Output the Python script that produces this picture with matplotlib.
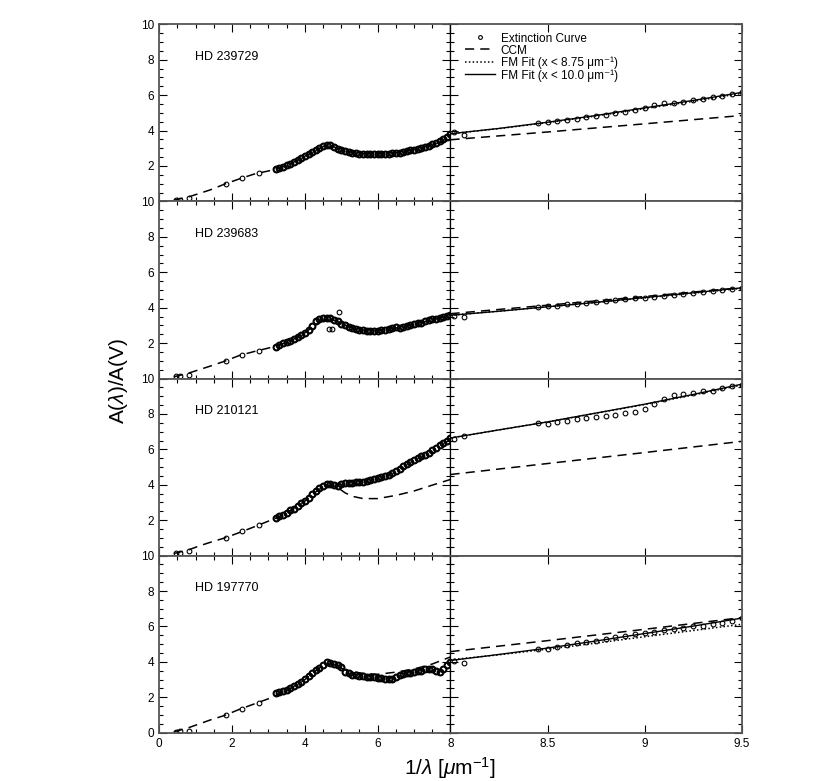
import numpy as np
import matplotlib.pyplot as plt
from matplotlib.ticker import MultipleLocator, FixedLocator

plt.rcParams['font.family'] = ['Liberation Sans', 'DejaVu Sans']
plt.rcParams['mathtext.fontset'] = 'custom'
plt.rcParams['mathtext.rm'] = 'Liberation Sans'
plt.rcParams['mathtext.it'] = 'Liberation Sans:italic'

stars = ['HD 239729', 'HD 239683', 'HD 210121', 'HD 197770']

# puntos IR/opticos (JHK, V, B, U)
ir_x = [0.45, 0.57, 0.82, 1.82, 2.27, 2.74]
ir_y = [[0.06, 0.10, 0.22, 1.00, 1.30, 1.60],
        [0.15, 0.17, 0.20, 1.00, 1.34, 1.55],
        [0.15, 0.17, 0.25, 1.00, 1.37, 1.71],
        [0.05, 0.08, 0.12, 1.00, 1.36, 1.66]]

# curva de extincion UV (IUE), x de 3.2 a 8.0 cada 0.1
uv_x = np.round(np.arange(3.2, 8.05, 0.1), 1)
uv_239729 = [1.82, 1.88, 1.96, 2.04, 2.12, 2.22, 2.33, 2.45, 2.55, 2.66,
             2.77, 2.88, 3.00, 3.12, 3.19, 3.18, 3.08, 2.97, 2.89, 2.82,
             2.78, 2.74, 2.72, 2.70, 2.69, 2.68, 2.68, 2.67, 2.68, 2.68,
             2.69, 2.70, 2.72, 2.74, 2.76, 2.80, 2.84, 2.88, 2.92, 2.97,
             3.03, 3.09, 3.15, 3.22, 3.30, 3.42, 3.52, 3.65, 3.82]
uv_239683 = [1.80, 1.90, 1.98, 2.05, 2.12, 2.22, 2.33, 2.45, 2.58, 2.72,
             2.95, 3.25, 3.35, 3.40, 3.42, 3.40, 3.32, 3.22, 3.10, 3.00,
             2.92, 2.85, 2.80, 2.76, 2.72, 2.70, 2.68, 2.68, 2.70, 2.73,
             2.76, 2.80, 2.86, 2.92, 2.88, 2.93, 2.97, 3.02, 3.06, 3.12,
             3.16, 3.22, 3.28, 3.35, 3.38, 3.42, 3.48, 3.53, 3.57]
uv_210121 = [2.12, 2.22, 2.30, 2.42, 2.55, 2.66, 2.80, 2.95, 3.10, 3.28,
             3.47, 3.65, 3.80, 3.92, 4.02, 4.05, 4.00, 3.95, 4.02, 4.08,
             4.10, 4.12, 4.14, 4.16, 4.18, 4.22, 4.26, 4.30, 4.36, 4.42,
             4.50, 4.58, 4.66, 4.75, 4.90, 5.05, 5.18, 5.30, 5.40, 5.50,
             5.60, 5.68, 5.80, 5.95, 6.10, 6.25, 6.38, 6.50, 6.62]
uv_197770 = [2.25, 2.30, 2.35, 2.42, 2.50, 2.62, 2.75, 2.88, 3.02, 3.18,
             3.35, 3.52, 3.68, 3.85, 3.98, 3.95, 3.88, 3.80, 3.72, 3.45,
             3.35, 3.28, 3.24, 3.20, 3.18, 3.16, 3.14, 3.12, 3.10, 3.08,
             3.06, 3.04, 3.02, 3.12, 3.25, 3.32, 3.36, 3.40, 3.42, 3.46,
             3.50, 3.58, 3.60, 3.62, 3.50, 3.45, 3.60, 3.80, 4.02]
uv_y = [uv_239729, uv_239683, uv_210121, uv_197770]

# puntos sueltos de HD 239683
out_x = [4.65, 4.75, 4.95]
out_y = [2.80, 2.80, 3.75]

# UV lejano (FUSE)
fuv_x = [8.02, 8.07, 8.45, 8.50, 8.55, 8.60, 8.65, 8.70, 8.75, 8.80, 8.85, 8.90,
         8.95, 9.00, 9.05, 9.10, 9.15, 9.20, 9.25, 9.30, 9.35, 9.40, 9.45, 9.50]
fuv_y = [[3.90, 3.75, 4.42, 4.47, 4.52, 4.60, 4.68, 4.74, 4.82, 4.90, 4.98, 5.07,
          5.18, 5.28, 5.45, 5.55, 5.58, 5.62, 5.70, 5.78, 5.88, 5.95, 6.05, 6.15],
         [3.55, 3.47, 4.02, 4.07, 4.10, 4.18, 4.22, 4.28, 4.33, 4.38, 4.42, 4.50,
          4.52, 4.56, 4.62, 4.68, 4.72, 4.78, 4.84, 4.88, 4.93, 4.98, 5.05, 5.12],
         [6.60, 6.75, 7.50, 7.45, 7.55, 7.62, 7.70, 7.75, 7.85, 7.90, 7.95, 8.05,
          8.12, 8.30, 8.55, 8.85, 9.05, 9.15, 9.20, 9.30, 9.30, 9.45, 9.55, 9.65],
         [4.05, 3.95, 4.72, 4.75, 4.82, 4.95, 5.05, 5.10, 5.20, 5.30, 5.40, 5.48,
          5.55, 5.62, 5.70, 5.78, 5.85, 5.90, 6.02, 6.05, 6.15, 6.22, 6.30, 6.45]]

# CCM
ccm_x = [0.4, 0.8, 1.1, 1.4, 1.8, 2.2, 2.6, 3.0, 3.3, 3.6, 4.0, 4.3, 4.5, 4.7,
         4.9, 5.1, 5.3, 5.6, 6.0, 6.5, 7.0, 7.5, 8.0]
ccm_y = [[0.07, 0.25, 0.45, 0.65, 0.98, 1.27, 1.54, 1.72, 1.88, 2.12, 2.55, 2.88,
          3.10, 3.18, 2.98, 2.84, 2.76, 2.70, 2.68, 2.75, 2.95, 3.20, 3.50],
         [0.10, 0.30, 0.50, 0.70, 0.98, 1.30, 1.52, 1.72, 1.90, 2.12, 2.58, 3.05,
          3.30, 3.36, 3.22, 3.02, 2.88, 2.74, 2.70, 2.85, 3.05, 3.32, 3.60],
         [0.12, 0.32, 0.55, 0.75, 1.00, 1.30, 1.62, 1.95, 2.20, 2.55, 3.08, 3.60,
          3.88, 3.98, 3.85, 3.55, 3.35, 3.22, 3.22, 3.40, 3.65, 3.98, 4.30],
         [0.05, 0.28, 0.50, 0.72, 0.98, 1.32, 1.62, 1.92, 2.20, 2.50, 3.00, 3.50,
          3.80, 3.92, 3.75, 3.55, 3.45, 3.35, 3.30, 3.42, 3.60, 3.88, 4.28]]
ccm_fx = [8.0, 8.5, 9.0, 9.5]
ccm_fy = [[3.48, 3.92, 4.38, 4.85],
          [3.66, 4.14, 4.63, 5.13],
          [4.58, 5.20, 5.82, 6.45],
          [4.58, 5.20, 5.84, 6.50]]

# ajustes FM
fm_x = [8.0, 8.25, 8.5, 8.75, 9.0, 9.25, 9.5]
fm10_y = [[3.82, 4.12, 4.47, 4.85, 5.28, 5.70, 6.15],
          [3.57, 3.80, 4.05, 4.30, 4.57, 4.84, 5.12],
          [6.64, 7.10, 7.55, 8.05, 8.55, 9.10, 9.68],
          [4.08, 4.42, 4.78, 5.18, 5.60, 6.02, 6.47]]
fm875_y = [[3.82, 4.11, 4.45, 4.82, 5.24, 5.65, 6.10],
           [3.57, 3.80, 4.05, 4.29, 4.55, 4.82, 5.09],
           [6.64, 7.10, 7.55, 8.04, 8.53, 9.07, 9.63],
           [4.12, 4.40, 4.72, 5.06, 5.42, 5.77, 6.12]]

spine_col = '#555555'
mk = dict(marker='o', ms=3.4, mfc='none', mec='black', mew=0.8, ls='none')
mk_uv = dict(marker='o', ms=4.2, mfc='none', mec='black', mew=1.5, ls='none')
dash = (0, (6, 4))

fig = plt.figure(figsize=(8.3, 7.81), dpi=100)
gs = fig.add_gridspec(4, 2, left=0.1919, right=0.8936, bottom=0.0618, top=0.9689,
                      wspace=0, hspace=0)

for i in range(4):
    axl = fig.add_subplot(gs[i, 0])
    axr = fig.add_subplot(gs[i, 1], sharey=axl)

    # panel izquierdo
    axl.plot(ccm_x, ccm_y[i], color='black', lw=1.1, ls=dash)
    axl.plot(ir_x, ir_y[i], **mk)
    axl.plot(uv_x, uv_y[i], **mk_uv)
    if i == 1:
        axl.plot(out_x, out_y, **mk)
    axl.text(0.123, 0.815, stars[i], transform=axl.transAxes, fontsize=9,
             va='center', ha='left')

    # panel derecho
    axr.plot(fuv_x, fuv_y[i], **mk, label='Extinction Curve')
    axr.plot(ccm_fx, ccm_fy[i], color='black', lw=1.1, ls=dash, label='CCM')
    axr.plot(fm_x, fm875_y[i], color='black', lw=1.1, ls=(0, (1, 1.5)),
             label='FM Fit (x < 8.75 μm⁻¹)')
    axr.plot(fm_x, fm10_y[i], color='black', lw=1.0, ls='-',
             label='FM Fit (x < 10.0 μm⁻¹)')

    axl.set_xlim(0, 8)
    axr.set_xlim(8, 9.5)
    axl.set_ylim(0, 10)

    axl.xaxis.set_major_locator(MultipleLocator(2))
    axl.xaxis.set_minor_locator(MultipleLocator(0.5))
    axr.xaxis.set_major_locator(FixedLocator([8.0, 8.5, 9.0, 9.5]))
    axl.yaxis.set_major_locator(MultipleLocator(2))
    axl.yaxis.set_minor_locator(MultipleLocator(0.5))

    for ax in (axl, axr):
        ax.tick_params(which='both', direction='in', top=True, right=True,
                       labelsize=8.5, width=0.8, color='black')
        ax.tick_params(which='major', length=6)
        ax.tick_params(which='minor', length=3)
        for s in ax.spines.values():
            s.set_color(spine_col)
            s.set_linewidth(1.3)
    axl.spines['right'].set_color('black')
    axl.spines['right'].set_linewidth(0.9)
    axr.spines['left'].set_color('black')
    axr.spines['left'].set_linewidth(0.9)
    axr.tick_params(axis='y', labelleft=False)

    ylabs = ['0', '2', '4', '6', '8', '10'] if i == 3 else ['', '2', '4', '6', '8', '10']
    axl.set_yticks([0, 2, 4, 6, 8, 10])
    axl.set_yticklabels(ylabs)

    if i == 3:
        axl.set_xticks([0, 2, 4, 6, 8])
        axl.set_xticklabels(['0', '2', '4', '6', '8'])
        axr.set_xticklabels(['', '8.5', '9', '9.5'])
    else:
        axl.tick_params(axis='x', labelbottom=False)
        axr.tick_params(axis='x', labelbottom=False)

    if i == 0:
        axr.legend(loc='upper left', bbox_to_anchor=(0.02, 1.0), frameon=False,
                   fontsize=8.5, handlelength=2.6, handletextpad=0.45,
                   labelspacing=0.0, borderaxespad=0.3, markerscale=0.8,
                   numpoints=1)

fig.text(0.143, 0.513, r'A($\lambda$)/A(V)', rotation=90, fontsize=15,
         ha='center', va='center')
fig.text(0.542, 0.0166, r'1/$\lambda$ [$\mu$m$^{-1}$]', fontsize=15,
         ha='center', va='center')

fig.savefig('out.png', dpi=100)
